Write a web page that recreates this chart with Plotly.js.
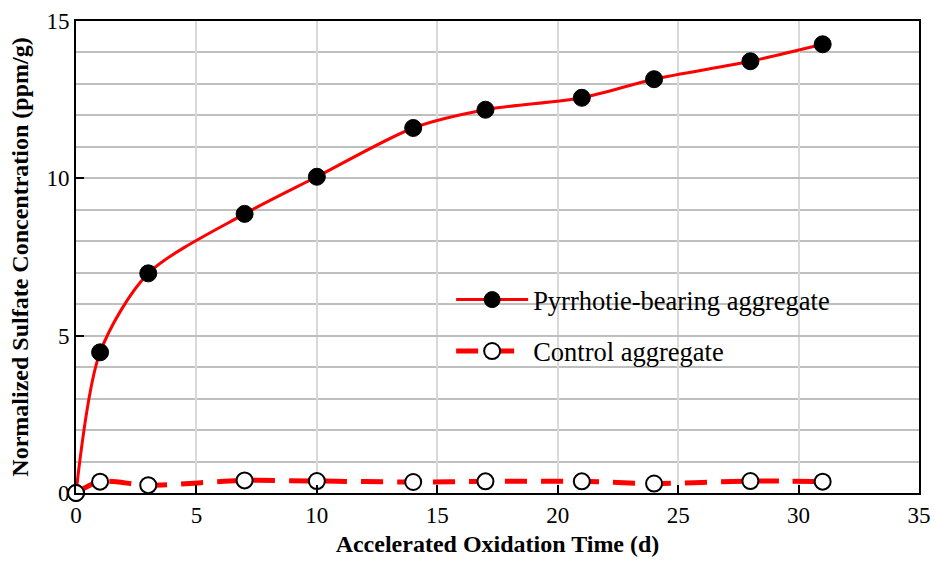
<!DOCTYPE html>
<html>
<head>
<meta charset="utf-8">
<script src="https://cdn.plot.ly/plotly-3.0.1.min.js"></script>
<style>html,body{margin:0;padding:0;background:#fff;}#chart{width:935px;height:564px;}</style>
</head>
<body>
<div id="chart"></div>
<script>
const days = [0, 1, 3, 7, 10, 14, 17, 21, 24, 28, 31];
const pyrrhotite = [0, 4.47, 6.98, 8.87, 10.05, 11.6, 12.18, 12.56, 13.15, 13.72, 14.26];
const control = [0, 0.36, 0.25, 0.4, 0.38, 0.35, 0.37, 0.37, 0.3, 0.38, 0.36];
const seriesNames = ["Pyrrhotie-bearing aggregate", "Control aggregate"];
const xTitle = "Accelerated Oxidation Time (d)";
const yTitle = "Normalized Sulfate Concentration (ppm/g)";

const font = "'Liberation Serif', 'Times New Roman', serif";

const traces = [
  {
    x: days, y: pyrrhotite, name: seriesNames[0], type: "scatter", mode: "lines+markers",
    legendgroup: "a",
    line: {color: "#ff0000", width: 3, shape: "spline", smoothing: 0.8},
    marker: {color: "#000000", size: 17, line: {color: "#000000", width: 1}},
    cliponaxis: false
  },
  {
    x: days, y: control, name: seriesNames[1], type: "scatter", mode: "lines+markers",
    legendgroup: "b",
    line: {color: "#ff0000", width: 5, dash: "22px,14px", shape: "spline", smoothing: 0.8},
    marker: {color: "#ffffff", size: 16, line: {color: "#000000", width: 2}},
    cliponaxis: false
  }
];

const layout = {
  width: 935, height: 564,
  margin: {l: 76, r: 16, t: 21, b: 71},
  paper_bgcolor: "#ffffff", plot_bgcolor: "#ffffff",
  font: {family: font, color: "#000000", size: 22},
  showlegend: true,
  legend: {
    x: 0.445, y: 0.46, xanchor: "left", yanchor: "top",
    bgcolor: "rgba(255,255,255,0)", font: {family: font, size: 26.5, color: "#000"},
    traceorder: "grouped", tracegroupgap: 14, itemwidth: 72
  },
  xaxis: {
    range: [0, 35], tick0: 0, dtick: 5, ticks: "inside", ticklen: 8, tickcolor: "#000", tickwidth: 2,
    showline: true, linecolor: "#000", linewidth: 2, mirror: true,
    showgrid: true, gridcolor: "#d9d9d9", gridwidth: 2, zeroline: false,
    tickfont: {family: font, size: 23, color: "#000"},
    title: {text: "<b>" + xTitle + "</b>", font: {family: font, size: 24, color: "#000"}, standoff: 9}
  },
  yaxis: {
    range: [0, 15], tick0: 0, dtick: 5, ticks: "inside", ticklen: 8, tickcolor: "#000", tickwidth: 2,
    showline: true, linecolor: "#000", linewidth: 2, mirror: true,
    showgrid: true, gridcolor: "#bfbfbf", gridwidth: 2, zeroline: false,
    minor: {dtick: 1, showgrid: true, gridcolor: "#bfbfbf", gridwidth: 2, ticks: ""},
    tickfont: {family: font, size: 23, color: "#000"},
    title: {text: "<b>" + yTitle + "</b>", font: {family: font, size: 24, color: "#000"}, standoff: 11}
  }
};

Plotly.newPlot("chart", traces, layout, {displayModeBar: false, staticPlot: true});
</script>
</body>
</html>
